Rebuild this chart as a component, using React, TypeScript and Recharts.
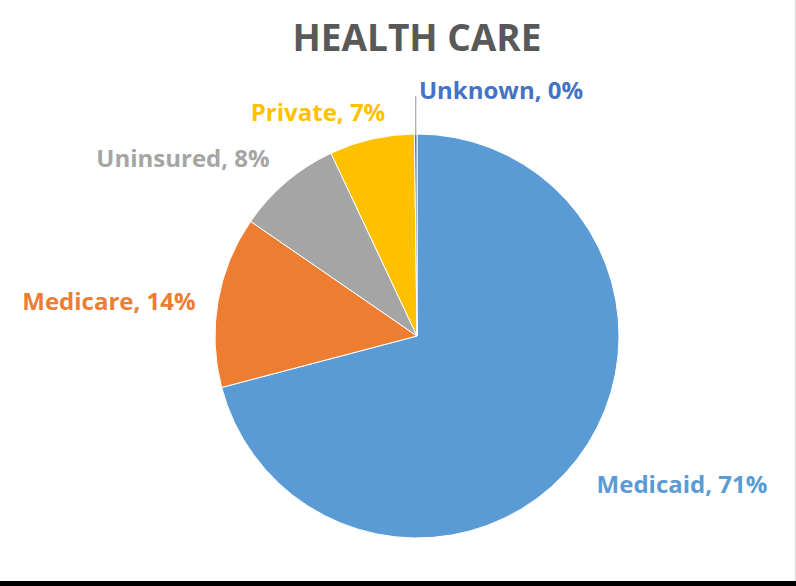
import React from "react";
import { PieChart, Pie, Cell } from "recharts";

const categories = ["Medicaid", "Medicare", "Uninsured", "Private", "Unknown"];
const shares = [70.9, 13.7, 8.4, 6.8, 0.2];
const colors = ["#5B9BD5", "#ED7D31", "#A5A5A5", "#FFC000", "#4472C4"];
const title = "HEALTH CARE";

const data = categories.map((name, i) => ({ name, value: shares[i] }));

const CX = 417;
const CY = 336;
const R = 202;

// label centre offsets from the pie centre (label placement, not marks)
const labelOffsets = [
  [265, 147],
  [-308, -36],
  [-234, -179],
  [-99, -225],
  [84, -247],
];

const FONT = "'Open Sans', 'Noto Sans', sans-serif";

const renderLabel = (p: any) => {
  const i = p.index;
  const [dx, dy] = labelOffsets[i];
  const pct = Math.round(p.percent * 100);
  return (
    <text
      key={`lbl-${i}`}
      x={CX + dx}
      y={CY + dy}
      textAnchor="middle"
      dominantBaseline="central"
      fill={colors[i]}
      fontFamily={FONT}
      fontWeight={700}
      fontSize={24}
    >
      {`${p.name}, ${pct}%`}
    </text>
  );
};

const renderLabelLine = (p: any) => {
  if (p.index !== 4) return <g key={`ll-${p.index}`} />;
  const start = p.points[0];
  return (
    <line
      key={`ll-${p.index}`}
      x1={start.x}
      y1={start.y}
      x2={start.x}
      y2={CY - 240}
      stroke="#A6A6A6"
      strokeWidth={1.2}
    />
  );
};

export default function App() {
  return (
    <div
      style={{
        position: "fixed",
        left: 0,
        top: 0,
        width: 796,
        height: 586,
        background: "#fff",
        overflow: "hidden",
      }}
    >
      <svg width={0} height={0} style={{ position: "absolute" }}>
        <defs>
          <filter id="pieShadow" x="-20%" y="-20%" width="140%" height="140%">
            <feDropShadow dx="0" dy="5" stdDeviation="5" floodColor="#000" floodOpacity="0.3" />
          </filter>
        </defs>
      </svg>
      <style>{`.recharts-pie-sectors { filter: url(#pieShadow); }`}</style>
      <div
        style={{
          position: "absolute",
          left: 0,
          top: 12,
          width: 834,
          textAlign: "center",
          fontFamily: FONT,
          fontWeight: 700,
          fontSize: 37,
          color: "#595959",
          lineHeight: "50px",
        }}
      >
        {title}
      </div>
      <div style={{ position: "absolute", left: 0, top: 0 }}>
        <PieChart width={796} height={581} margin={{ top: 0, right: 0, bottom: 0, left: 0 }}>
          <Pie
            data={data}
            dataKey="value"
            nameKey="name"
            cx={CX}
            cy={CY}
            outerRadius={R}
            startAngle={90}
            endAngle={-270}
            stroke="#fff"
            strokeWidth={1}
            isAnimationActive={false}
            label={renderLabel}
            labelLine={renderLabelLine}
          >
            {data.map((d, i) => (
              <Cell key={d.name} fill={colors[i]} />
            ))}
          </Pie>
        </PieChart>
      </div>
      <div
        style={{
          position: "absolute",
          right: 0,
          top: 0,
          width: 1,
          height: 581,
          background: "#D9D9D9",
        }}
      />
      <div
        style={{
          position: "absolute",
          left: 0,
          top: 581,
          width: 796,
          height: 5,
          background: "#000",
        }}
      />
    </div>
  );
}
